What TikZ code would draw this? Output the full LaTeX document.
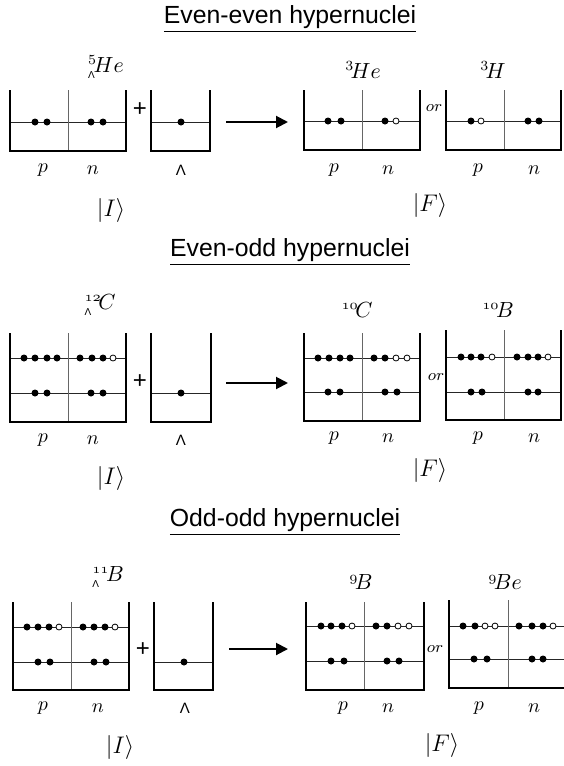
\documentclass[tikz,border=0pt]{standalone}
\usepackage{fontspec}
\setsansfont{Liberation Sans}
\usetikzlibrary{arrows.meta}
\definecolor{divcol}{gray}{0.40}
\definecolor{levcol}{gray}{0.15}
\newcommand{\hyp}{\mbox{\fontsize{5}{5}\sffamily Λ}}
\tikzset{
  wall/.style={line width=1pt,line join=miter},
  levl/.style={line width=0.5pt,draw=levcol},
  divd/.style={line width=0.5pt,draw=divcol},
  ttl/.style={font=\fontsize{12.4}{14}\sffamily},
  nucl/.style={font=\fontsize{10.5}{12}\selectfont},
  lab/.style={font=\fontsize{10}{11}\selectfont},
  lamlab/.style={font=\fontsize{7.5}{8}\sffamily},
  ket/.style={font=\fontsize{12.5}{14}\selectfont},
  orlab/.style={font=\fontsize{8}{9}\selectfont},
  pluslab/.style={font=\fontsize{12}{13}\sffamily},
  ptcl/.style={fill=black},
  hole/.style={fill=white,draw=black,line width=0.4pt},
  goes/.style={line width=1pt,-{Triangle[length=6pt,width=6pt]}},
}

\begin{document}
\begin{tikzpicture}[x=0.5pt,y=-0.5pt]
  \useasboundingbox (0,0) rectangle (563,766);
  % even-even
  \node[ttl] (title1) at (290,19) {\underline{Even-even hypernuclei}};
  \node[nucl] (nuclI1) at (106,67) {$^{5}_{\hyp}\!He$};
  \draw[levl] (10,122) -- (126,122);
  \draw[divd] (68,90) -- (68,151);
  \draw[wall] (10,90) |- (126,151) -- (126,90);
  \foreach \x in {35,47,91,103} \fill[ptcl] (\x,122) circle (1.75pt);
  \node[pluslab] (plus1) at (140,110) {+};
  \draw[levl] (151,122) -- (210,122);
  \draw[wall] (151,90) |- (210,151) -- (210,90);
  \fill[ptcl] (181,122) circle (1.75pt);
  \coordinate (arrI1) at (226,122);
  \coordinate (arrF1) at (288,122);
  \draw[goes] (arrI1) -- (arrF1);
  \node[nucl] (nuclFa1) at (363,70) {$^{3}\!He$};
  \draw[levl] (304,121) -- (420,121);
  \draw[divd] (362,90) -- (362,150);
  \draw[wall] (304,90) |- (420,150) -- (420,90);
  \foreach \x in {328,341,385} \fill[ptcl] (\x,121) circle (1.75pt);
  \filldraw[hole] (396,121) circle (1.5pt);
  \node[orlab] (or1) at (434,108) {$or$};
  \node[nucl] (nuclFb1) at (493,70) {$^{3}\!H$};
  \draw[levl] (446,121) -- (561,121);
  \draw[divd] (504,90) -- (504,150);
  \draw[wall] (446,90) |- (561,150) -- (561,90);
  \foreach \x in {471,528,539} \fill[ptcl] (\x,121) circle (1.75pt);
  \filldraw[hole] (481,121) circle (1.5pt);
  \node[lab] at (43,170) {$p$};
  \node[lab] at (93,170) {$n$};
  \node[lamlab] at (181,170) {Λ};
  \node[lab] at (334,170) {$p$};
  \node[lab] at (388,170) {$n$};
  \node[lab] at (478,170) {$p$};
  \node[lab] at (534,170) {$n$};
  \node[ket] (ketI1) at (111,210) {$\bigl|I\bigr\rangle$};
  \node[ket] (ketF1) at (430,205) {$\bigl|F\bigr\rangle$};
  % even-odd
  \node[ttl] (title2) at (290,252) {\underline{Even-odd hypernuclei}};
  \node[nucl] (nuclI2) at (100,305) {$^{\mathnormal{12}}_{\hyp}\!C$};
  \draw[levl] (10,358) -- (126,358);
  \draw[levl] (10,393) -- (126,393);
  \draw[divd] (68,333) -- (68,422);
  \draw[wall] (10,333) |- (126,422) -- (126,333);
  \foreach \x in {24,35,47,57,80,92,103} \fill[ptcl] (\x,358) circle (1.75pt);
  \filldraw[hole] (113,358) circle (1.5pt);
  \foreach \x in {35,47,91,103} \fill[ptcl] (\x,393) circle (1.75pt);
  \node[pluslab] (plus2) at (140,382) {+};
  \draw[levl] (151,393) -- (211,393);
  \draw[wall] (151,333) |- (211,422) -- (211,333);
  \fill[ptcl] (181,393) circle (1.75pt);
  \coordinate (arrI2) at (226,383);
  \coordinate (arrF2) at (288,383);
  \draw[goes] (arrI2) -- (arrF2);
  \node[nucl] (nuclFa2) at (357,310) {$^{\mathnormal{10}}\!C$};
  \draw[levl] (304,358) -- (420,358);
  \draw[levl] (304,392) -- (420,392);
  \draw[divd] (362,333) -- (362,421);
  \draw[wall] (304,333) |- (420,421) -- (420,333);
  \foreach \x in {318,329,340,350,374,385} \fill[ptcl] (\x,358) circle (1.75pt);
  \foreach \x in {396,407} \filldraw[hole] (\x,358) circle (1.5pt);
  \foreach \x in {328,340,385,397} \fill[ptcl] (\x,392) circle (1.75pt);
  \node[orlab] (or2) at (436,377) {$or$};
  \node[nucl] (nuclFb2) at (498,310) {$^{\mathnormal{10}}\!B$};
  \draw[levl] (446,357) -- (561,357);
  \draw[levl] (446,392) -- (561,392);
  \draw[divd] (504,330) -- (504,420);
  \draw[wall] (446,330) |- (561,420) -- (561,330);
  \foreach \x in {461,471,481,517,528,538} \fill[ptcl] (\x,357) circle (1.75pt);
  \foreach \x in {492,548} \filldraw[hole] (\x,357) circle (1.5pt);
  \foreach \x in {471,482,528,538} \fill[ptcl] (\x,392) circle (1.75pt);
  \node[lab] at (43,440) {$p$};
  \node[lab] at (93,440) {$n$};
  \node[lamlab] at (181,440) {Λ};
  \node[lab] at (334,438) {$p$};
  \node[lab] at (388,438) {$n$};
  \node[lab] at (478,438) {$p$};
  \node[lab] at (534,438) {$n$};
  \node[ket] (ketI2) at (111,478) {$\bigl|I\bigr\rangle$};
  \node[ket] (ketF2) at (430,470) {$\bigl|F\bigr\rangle$};
  % odd-odd
  \node[ttl] (title3) at (285,522) {\underline{Odd-odd hypernuclei}};
  \node[nucl] (nuclI3) at (108,577) {$^{\mathnormal{11}}_{\hyp}\!B$};
  \draw[levl] (13,627) -- (129,627);
  \draw[levl] (13,662) -- (129,662);
  \draw[divd] (71,602) -- (71,690);
  \draw[wall] (13,602) |- (129,690) -- (129,602);
  \foreach \x in {27,38,49,83,94,105} \fill[ptcl] (\x,627) circle (1.75pt);
  \foreach \x in {59,115} \filldraw[hole] (\x,627) circle (1.5pt);
  \foreach \x in {38,50,94,106} \fill[ptcl] (\x,662) circle (1.75pt);
  \node[pluslab] (plus3) at (143,650) {+};
  \draw[levl] (154,662) -- (213,662);
  \draw[wall] (154,602) |- (213,690) -- (213,602);
  \fill[ptcl] (184,662) circle (1.75pt);
  \coordinate (arrI3) at (229,649);
  \coordinate (arrF3) at (288,649);
  \draw[goes] (arrI3) -- (arrF3);
  \node[nucl] (nuclFa3) at (361,582) {$^{\mathnormal{9}}\!B$};
  \draw[levl] (306,626) -- (424,626);
  \draw[levl] (306,661) -- (424,661);
  \draw[divd] (364,602) -- (364,690);
  \draw[wall] (306,602) |- (424,690) -- (424,602);
  \foreach \x in {321,331,342,376,387} \fill[ptcl] (\x,626) circle (1.75pt);
  \foreach \x in {352,398,409} \filldraw[hole] (\x,626) circle (1.5pt);
  \foreach \x in {331,344,387,399} \fill[ptcl] (\x,661) circle (1.75pt);
  \node[orlab] (or3) at (435,649) {$or$};
  \node[nucl] (nuclFb3) at (505,582) {$^{\mathnormal{9}}\!Be$};
  \draw[levl] (449,626) -- (566,626);
  \draw[levl] (449,659) -- (566,659);
  \draw[divd] (508,600) -- (508,688);
  \draw[wall] (449,600) |- (566,688);
  \foreach \x in {463,475,519,532,543} \fill[ptcl] (\x,626) circle (1.75pt);
  \foreach \x in {485,495,553} \filldraw[hole] (\x,626) circle (1.5pt);
  \foreach \x in {474,487,532,543} \fill[ptcl] (\x,659) circle (1.75pt);
  \node[lab] at (43,708) {$p$};
  \node[lab] at (98,708) {$n$};
  \node[lamlab] at (185,708) {Λ};
  \node[lab] at (343,708) {$p$};
  \node[lab] at (388,708) {$n$};
  \node[lab] at (479,708) {$p$};
  \node[lab] at (534,708) {$n$};
  \node[ket] (ketI3) at (120,747) {$\bigl|I\bigr\rangle$};
  \node[ket] (ketF3) at (442,745) {$\bigl|F\bigr\rangle$};
\end{tikzpicture}
\end{document}
